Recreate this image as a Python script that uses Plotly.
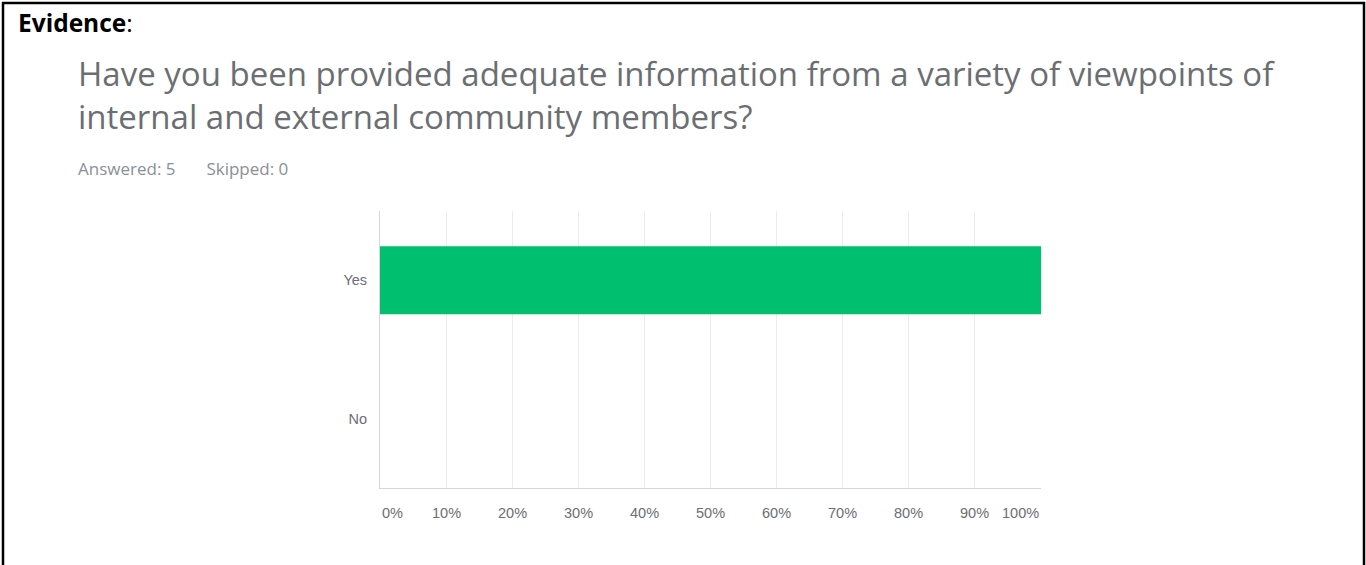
import plotly.graph_objects as go

categories = ["Yes", "No"]
values = [100, 0]
tick_values = [0, 10, 20, 30, 40, 50, 60, 70, 80, 90, 100]
tick_labels = [f"{v}%" for v in tick_values]

title_text = ("Have you been provided adequate information from a variety of viewpoints of<br>"
              "internal and external community members?")
answered = 5
skipped = 0

W, H = 1366, 565
L, R, T, B = 380, 1041, 211, 488

def px(x):
    return (x - L) / (R - L)

def py(y):
    return (B - y) / (B - T)

fig = go.Figure()
fig.add_trace(go.Bar(
    y=categories, x=values, orientation="h",
    marker=dict(color="#00bf6f", line=dict(width=0)),
    width=0.49, hoverinfo="skip",
))

fig.update_layout(
    width=W, height=H,
    margin=dict(l=L, r=W - R, t=T, b=H - B, pad=0),
    paper_bgcolor="white", plot_bgcolor="white",
    showlegend=False,
    font=dict(family="Liberation Sans", color="#666a6e"),
)
fig.update_xaxes(
    range=[0, 100], tickvals=tick_values, showticklabels=False,
    showgrid=True, gridcolor="#ececec", gridwidth=1,
    zeroline=False, showline=True, linecolor="#d6d6d6", linewidth=1,
    fixedrange=True,
)
fig.update_yaxes(
    categoryorder="array", categoryarray=categories, autorange="reversed",
    showgrid=False, zeroline=False, showline=True, linecolor="#d6d6d6", linewidth=1,
    tickfont=dict(family="Liberation Sans", size=14.5, color="#6b6e72"), ticks="", ticklabelstandoff=9,
    fixedrange=True,
)

annotations = []
for i, (v, t) in enumerate(zip(tick_values, tick_labels)):
    anchor = "center"
    if i == 0:
        anchor = "left"
    elif i == len(tick_values) - 1:
        anchor = "right"
    annotations.append(dict(
        x=v, xref="x", y=py(513), yref="paper", text=t, showarrow=False,
        xanchor=anchor, yanchor="middle",
        font=dict(family="Liberation Sans", size=14.5, color="#6b6e72"),
    ))

annotations.append(dict(
    x=px(16), y=py(22), xref="paper", yref="paper", text="<b>Evidence</b>:",
    showarrow=False, xanchor="left", yanchor="middle",
    font=dict(family="Open Sans", size=24.5, color="black"),
))
annotations.append(dict(
    x=px(76), y=py(95), xref="paper", yref="paper", text=title_text,
    showarrow=False, xanchor="left", yanchor="middle", align="left",
    font=dict(family="Open Sans", size=33, color="#6b6e72", weight=400),
))
annotations.append(dict(
    x=px(76), y=py(168), xref="paper", yref="paper",
    text=f"Answered: {answered}&nbsp;&nbsp;&nbsp;&nbsp;&nbsp;&nbsp;&nbsp;Skipped: {skipped}",
    showarrow=False, xanchor="left", yanchor="middle",
    font=dict(family="Open Sans", size=17, color="#8b9096"),
))
fig.update_layout(annotations=annotations)

border = dict(color="black", width=2.5)
fig.add_shape(type="line", xref="paper", yref="paper", x0=px(3), x1=px(3), y0=py(2), y1=py(566), line=border)
fig.add_shape(type="line", xref="paper", yref="paper", x0=px(2), x1=px(1365), y0=py(3), y1=py(3), line=border)
fig.add_shape(type="line", xref="paper", yref="paper", x0=px(1364), x1=px(1364), y0=py(2), y1=py(566), line=border)

fig.write_html(
    "out.html",
    config={"displayModeBar": False},
    post_script="document.body.style.margin='0';document.body.style.overflow='hidden';",
)
